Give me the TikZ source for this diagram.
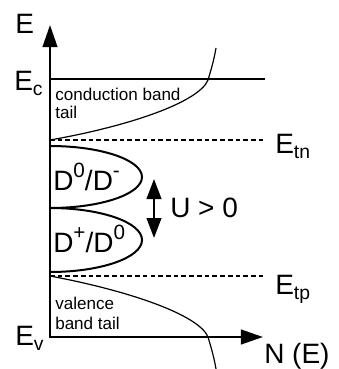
\documentclass[tikz,border=0pt]{standalone}
\usepackage{fontspec}
\setmainfont{Liberation Sans}
\usetikzlibrary{arrows.meta}

\newcommand{\lsub}[1]{\raisebox{-4pt}{\fontsize{14.5}{14.5}\selectfont #1}}
\newcommand{\lsup}[1]{\raisebox{9.5pt}{\fontsize{15.5}{15.5}\selectfont #1}}

\begin{document}
\begin{tikzpicture}[x=0.75pt,y=0.75pt,yscale=-1,xscale=1,
	axis/.style={line width=1.5pt,{Triangle[length=16.5pt,width=11pt]}-{Triangle[length=16.5pt,width=11pt]}},
	edge/.style={line width=1.5pt},
	trap/.style={line width=1.4pt,dash pattern={on 3.5pt off 2.3pt}},
	tail/.style={line width=0.9pt},
	lbl/.style={anchor=base west,inner sep=0pt,font=\fontsize{21}{21}\selectfont},
	note/.style={anchor=north west,inner sep=0pt,align=left}]
				\useasboundingbox (0,0) rectangle (339,369);

				%Coordinates
				\coordinate (O) at (50,337);
				\coordinate (Etop) at (50,25);
				\coordinate (Nend) at (263,337);
				\coordinate (Ec) at (50,79);
				\coordinate (EcR) at (265,79);
				\coordinate (Etn) at (50,140);
				\coordinate (EtnR) at (263,140);
				\coordinate (Etp) at (50,276);
				\coordinate (EtpR) at (263,276);
				\coordinate (Uup) at (154,179);
				\coordinate (Udn) at (154,238);

				%Axes
				\draw [axis] (Etop) -- (O) -- (Nend) ;
				%Straight Lines (band edge)
				\draw [edge] (Ec) -- (EcR) ;
				%Straight Lines (trap levels)
				\draw [trap] (Etn) -- (EtnR) ;
				\draw [trap] (Etp) -- (EtpR) ;

				%Curves (band tails)
				\draw [tail] (Etn) .. controls (130,126) and (199,102) .. (208,80) .. controls (211,70) and (214,60) .. (216,48) ;
				\draw [tail] (Etp) .. controls (130,291) and (199,315) .. (208,337) .. controls (211,347) and (214,357) .. (216,369) ;

				%Shape: Arcs (donor lobes)
				\draw [edge] (50,146) arc [start angle=-90, end angle=90, x radius=92, y radius=31] ;
				\draw [edge] (50,208) arc [start angle=-90, end angle=90, x radius=92, y radius=32] ;

				%Double arrow
				\draw [line width=1.5pt, {Triangle[length=15pt,width=11pt]}-{Triangle[length=15pt,width=11pt]}] (Uup) -- (Udn) ;

				% Text Nodes
				\node (lblE) [lbl] at (15,33) {E};
				\node (lblEc) [lbl] at (14,90) {E\lsub{c}};
				\node (lblEv) [lbl] at (15,345) {E\lsub{v}};
				\node (lblEtn) [lbl] at (275,153) {E\lsub{tn}};
				\node (lblEtp) [lbl] at (275,294) {E\lsub{tp}};
				\node (lblN) [lbl] at (264,363) {N (E)};
				\node (lblDm) [lbl] at (53,190) {D\lsup{0}/D\lsup{-}};
				\node (lblDp) [lbl] at (53,252) {D\lsup{+}/D\lsup{0}};
				\node (lblU) [lbl] at (170,217) {U > 0};
				\node (cbt) [note,font=\fontsize{12.8}{13.7}\selectfont] at (55,88) {conduction band\\tail};
				\node (vbt) [note,font=\fontsize{12.8}{15}\selectfont] at (55,297) {valence\\band tail};

\end{tikzpicture}
\end{document}
